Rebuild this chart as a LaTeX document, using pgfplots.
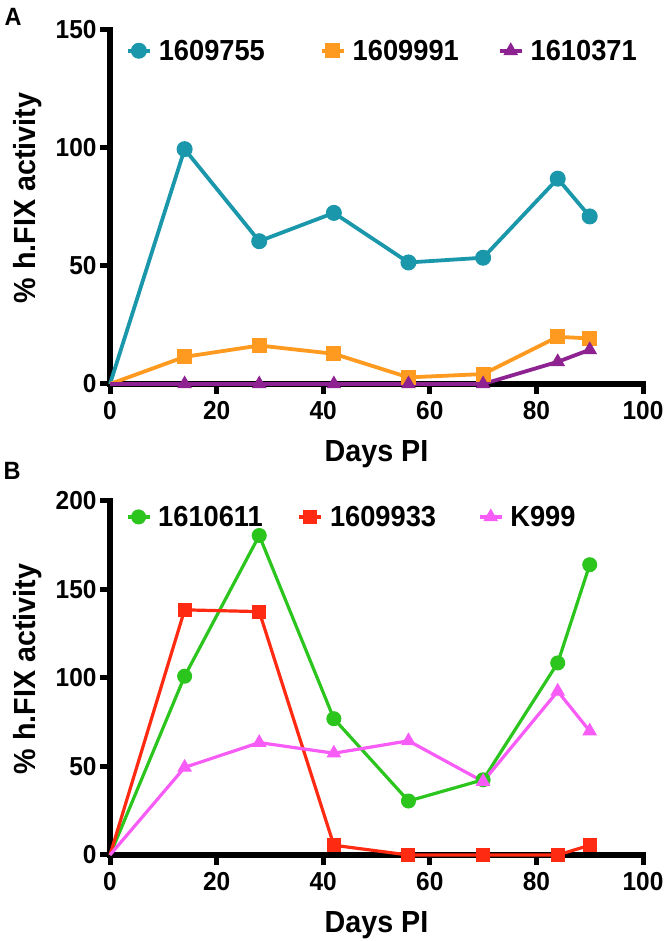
\documentclass[border=0pt]{standalone}
\usepackage{pgfplots}
\pgfplotsset{compat=1.18}
\usepackage{fontspec}
\setmainfont{Liberation Sans}[FakeStretch=0.94]
\definecolor{cteal}{HTML}{1B97AB}
\definecolor{corange}{HTML}{FF9A20}
\definecolor{cpurple}{HTML}{8E2291}
\definecolor{cgreen}{HTML}{2BC51E}
\definecolor{cred}{HTML}{FF2A12}
\definecolor{cpink}{HTML}{F75CF7}
\pgfplotsset{
 myaxis/.style={
  scale only axis, width=533pt, height=354pt,
  xmin=0, xmax=100, ymin=0,
  axis x line=bottom, axis y line=left,
  axis line style={line width=6pt, line cap=rect, -},
  tick align=outside, major tick length=10pt,
  tick style={line width=5pt, black},
  xtick={0,20,...,100},
  /pgf/number format/assume math mode=true,
  ticklabel style={font=\bfseries\fontsize{26}{29}\selectfont},
  xticklabel style={yshift=-4pt},
  xlabel={Days PI}, ylabel={\% h.FIX activity},
  label style={font=\bfseries\fontsize{30.5}{34}\selectfont},
  xlabel style={at={(axis description cs:0.5,-0.22)}, anchor=base},
  ylabel style={at={(axis description cs:-0.154,0.525)}, anchor=center},
  legend columns=3,
  legend style={draw=none, fill=none, font=\bfseries\fontsize{29}{32}\selectfont,
   /tikz/every odd column/.append style={column sep=5pt}},
  legend image code/.code={\draw[mark repeat=2,mark phase=2] plot coordinates {(-11pt,0pt) (0pt,0pt) (11pt,0pt)};},
  clip=false,
 }
}
\begin{document}
\begin{tikzpicture}[x=1pt,y=1pt]
\path[use as bounding box] (0,0) rectangle (664,941);
\begin{axis}[myaxis, at={(110pt,557pt)}, anchor=south west,
  ymax=150, ytick={0,50,100,150},
  legend style={at={(axis cs:2.4,141.2)}, anchor=west,
   /tikz/column 2/.style={column sep=53pt},
   /tikz/column 4/.style={column sep=37pt}}]
\addplot[color=cteal, line width=3.8pt, mark=*, mark size=7.5pt, mark phase=2, mark options={line width=1pt}]
 coordinates {(0,0)(14,99.5)(28,60.5)(42,72.5)(56,51.5)(70,53.5)(84,87)(90,71)};
\addlegendentry{1609755}
\addplot[color=corange, line width=3.8pt, mark=square*, mark size=7pt, mark phase=2, mark options={line width=1pt}]
 coordinates {(0,0)(14,11.5)(28,16.3)(42,12.8)(56,2.8)(70,4.2)(84,20)(90,19.3)};
\addlegendentry{1609991}
\addplot[color=cpurple, line width=3.8pt, mark=triangle*, mark size=7.5pt, mark phase=2, mark options={line width=1pt}]
 coordinates {(0,0)(14,0)(28,0)(42,0)(56,0)(70,0)(84,9.4)(90,14.5)};
\addlegendentry{1610371}
\end{axis}
\begin{axis}[myaxis, at={(110pt,86pt)}, anchor=south west,
  ymax=200, ytick={0,50,100,150,200},
  legend style={at={(axis cs:2.4,191)}, anchor=west,
   /tikz/column 2/.style={column sep=33pt},
   /tikz/column 4/.style={column sep=40pt}}]
\addplot[color=cgreen, line width=3.2pt, mark=*, mark size=7pt, mark phase=2, mark options={line width=1pt}]
 coordinates {(0,0)(14,101)(28,180.5)(42,77)(56,30.5)(70,42.5)(84,108.5)(90,164)};
\addlegendentry{1610611}
\addplot[color=cred, line width=3.2pt, mark=square*, mark size=6.5pt, mark phase=2, mark options={line width=1pt}]
 coordinates {(0,0)(14,138.5)(28,137.5)(42,5.5)(56,0)(70,0)(84,0)(90,5.5)};
\addlegendentry{1609933}
\addplot[color=cpink, line width=3.2pt, mark=triangle*, mark size=7.5pt, mark phase=2, mark options={line width=1pt}]
 coordinates {(0,0)(14,49.5)(28,63.5)(42,57.5)(56,64.5)(70,41.5)(84,92.5)(90,70)};
\addlegendentry{K999}
\end{axis}
\node[font=\bfseries\fontsize{25}{28}\selectfont] at (13,924) {A};
\node[font=\bfseries\fontsize{25}{28}\selectfont] at (12,470) {B};
\end{tikzpicture}
\end{document}
